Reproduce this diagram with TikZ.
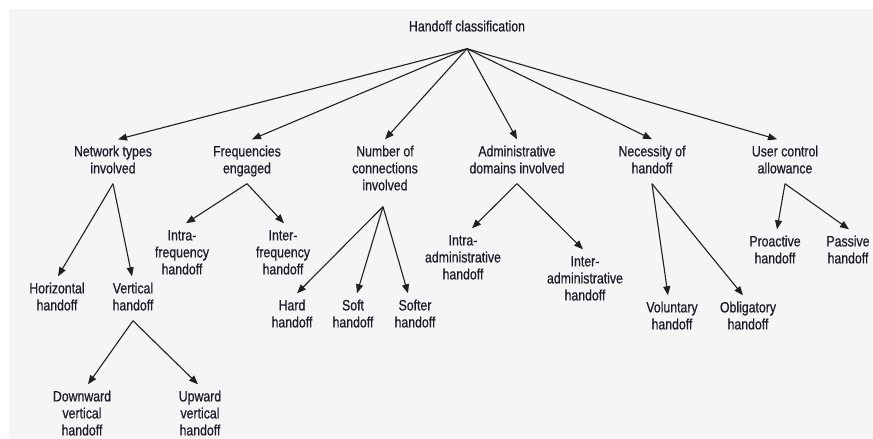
\documentclass[tikz,border=0pt]{standalone}
\usepackage{fontspec}
\setmainfont{Liberation Sans}[FakeStretch=0.82,FakeBold=0.6]
\usetikzlibrary{arrows.meta}
\definecolor{bgc}{HTML}{F5F5F5}
\definecolor{txt}{HTML}{1C1C2A}
\definecolor{ln}{HTML}{202020}
\tikzset{
  lab/.style={align=center, inner xsep=0pt, inner ysep=5pt, text=txt,
    font=\fontsize{15}{17}\selectfont},
  conn/.style={draw=ln, line width=1.1pt, -{Triangle[length=9pt,width=7pt]}}
}
\newcommand{\sline}{\strut}
\begin{document}
\begin{tikzpicture}[x=1pt,y=-1pt]
\useasboundingbox (0,0) rectangle (873,439);
\fill[white] (0,0) rectangle (873,439);
\fill[bgc] (9,9) rectangle (873,439);

% root
\node[lab, inner ysep=12pt] (root) at (467,28) {\sline Handoff classification\sline};

% level 1
\node[lab] (net)   at (113,161.5) {\sline Network types\\involved\sline};
\node[lab] (freq)  at (247,161.5) {\sline Frequencies\\engaged\sline};
\node[lab] (num)   at (385,170)   {\sline Number of\\connections\\involved\sline};
\node[lab] (admin) at (517,161.5) {\sline Administrative\\domains involved\sline};
\node[lab] (nec)   at (652,161.5) {\sline Necessity of\\handoff\sline};
\node[lab] (user)  at (785,161.5) {\sline User control\\allowance\sline};

% level 2
\node[lab] (horiz)  at (57,298.5)  {\sline Horizontal\\handoff\sline};
\node[lab] (vert)   at (133,298.5) {\sline Vertical\\handoff\sline};
\node[lab] (down)   at (82,415)    {\sline Downward\\vertical\\handoff\sline};
\node[lab] (up)     at (200,415)   {\sline Upward\\vertical\\handoff\sline};
\node[lab] (intraf) at (182,254)   {\sline Intra-\\frequency\\handoff\sline};
\node[lab] (interf) at (283,254)   {\sline Inter-\\frequency\\handoff\sline};
\node[lab] (hard)   at (292,315.5) {\sline Hard\\handoff\sline};
\node[lab] (soft)   at (353,315.5) {\sline Soft\\handoff\sline};
\node[lab] (softer) at (415,315.5) {\sline Softer\\handoff\sline};
\node[lab] (intraa) at (463,259)   {\sline Intra-\\administrative\\handoff\sline};
\node[lab] (intera) at (585,280)   {\sline Inter-\\administrative\\handoff\sline};
\node[lab] (vol)    at (672,317.5) {\sline Voluntary\\handoff\sline};
\node[lab] (obl)    at (748,317.5) {\sline Obligatory\\handoff\sline};
\node[lab] (pro)    at (775,251.5) {\sline Proactive\\handoff\sline};
\node[lab] (pas)    at (848,251.5) {\sline Passive\\handoff\sline};

% connectors from root
\draw[conn] (root.south) -- ([xshift=5pt]net.north);
\draw[conn] (root.south) -- ([xshift=5pt]freq.north);
\draw[conn] (root.south) -- (num.north);
\draw[conn] (root.south) -- (admin.north);
\draw[conn] (root.south) -- (nec.north);
\draw[conn] (root.south) -- ([xshift=-8pt]user.north);

% network types
\draw[conn] (net.south) -- ([xshift=1pt]horiz.north);
\draw[conn] (net.south) -- ([xshift=-1pt]vert.north);
\draw[conn] (vert.south) -- ([xshift=6pt]down.north);
\draw[conn] (vert.south) -- ([xshift=-2pt]up.north);

% frequencies
\draw[conn] (freq.south) -- ([xshift=4pt]intraf.north);
\draw[conn] (freq.south) -- ([xshift=1pt]interf.north);

% number of connections
\draw[conn] ([xshift=-2pt,yshift=-6pt]num.south) -- ([xshift=5pt]hard.north);
\draw[conn] ([xshift=-2pt,yshift=-6pt]num.south) -- ([xshift=4pt]soft.north);
\draw[conn] ([xshift=-2pt,yshift=-6pt]num.south) -- ([xshift=-7pt]softer.north);

% administrative
\draw[conn] (admin.south) -- ([xshift=9pt]intraa.north);
\draw[conn] (admin.south) -- ([xshift=-2pt]intera.north);

% necessity
\draw[conn] (nec.south) -- ([xshift=-4pt]vol.north);
\draw[conn] (nec.south) -- ([xshift=-5pt]obl.north);

% user control
\draw[conn] (user.south) -- ([xshift=2pt]pro.north);
\draw[conn] (user.south) -- ([xshift=1pt]pas.north);
\end{tikzpicture}
\end{document}
